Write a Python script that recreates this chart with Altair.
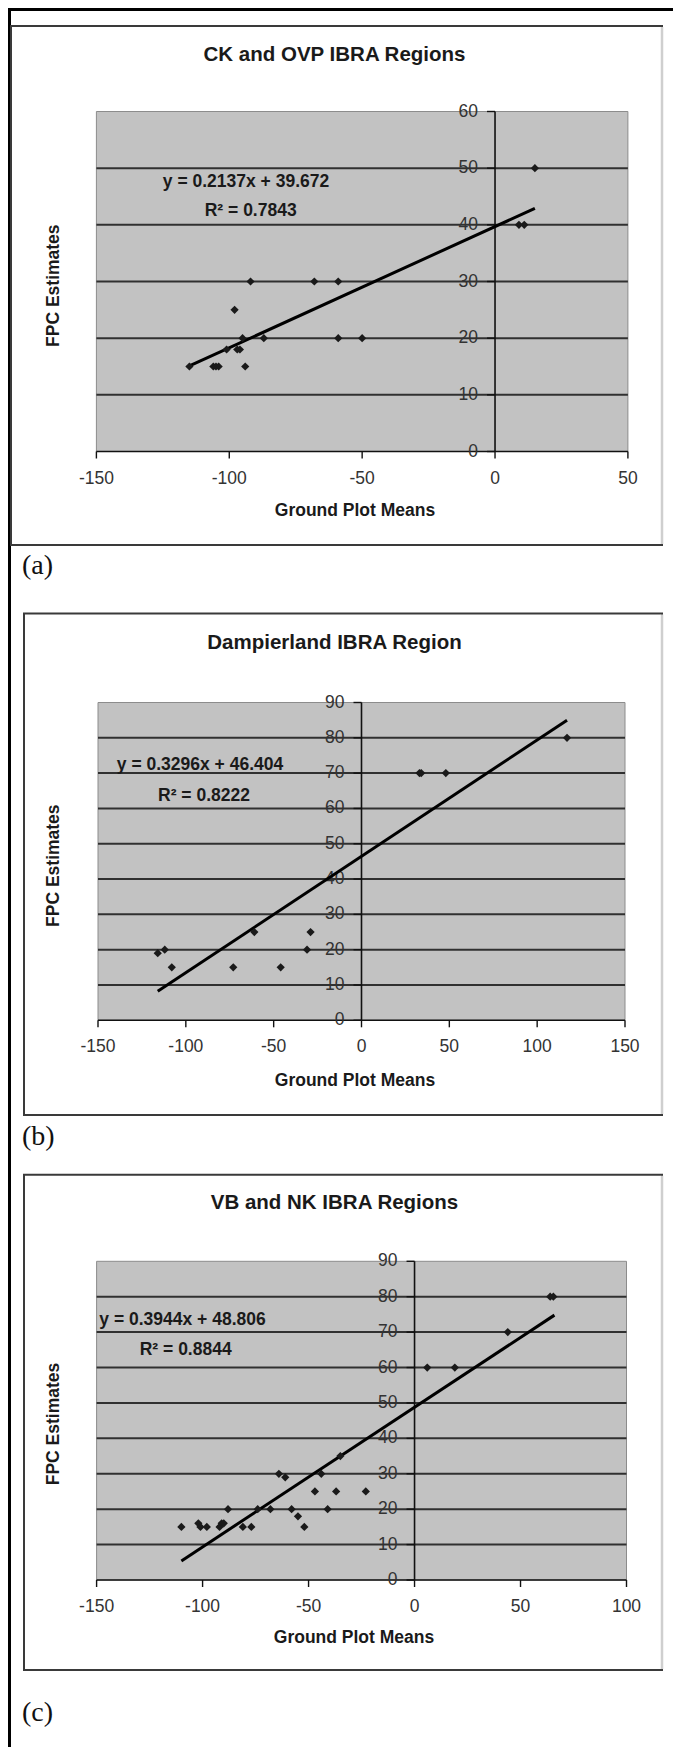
import altair as alt
import pandas as pd

FONT = "Liberation Sans"

# ---------------- data ----------------
# (a) CK and OVP IBRA Regions
a_x = [-115, -106, -105, -104, -94, -98, -92, -68, -59, -95, -87, -59, -50, -101, -97, -96, 15, 9, 11]
a_y = [15, 15, 15, 15, 15, 25, 30, 30, 30, 20, 20, 20, 20, 18, 18, 18, 50, 40, 40]
a_trend_x = [-115, 15]
a_trend_y = [15.1, 42.9]
a_xticks = [-150, -100, -50, 0, 50]
a_yticks = [0, 10, 20, 30, 40, 50, 60]

# (b) Dampierland IBRA Region
b_x = [-116, -112, -108, -73, -61, -46, -31, -29, 33, 34, 48, 117]
b_y = [19, 20, 15, 15, 25, 15, 20, 25, 70, 70, 70, 80]
b_trend_x = [-116, 117]
b_trend_y = [8.2, 85.0]
b_xticks = [-150, -100, -50, 0, 50, 100, 150]
b_yticks = [0, 10, 20, 30, 40, 50, 60, 70, 80, 90]

# (c) VB and NK IBRA Regions
c_x = [-110, -102, -101, -98, -92, -91, -90, -88, -81, -77, -74, -68, -64, -61,
       -58, -55, -52, -47, -44, -41, -37, -35, -23, 6, 19, 44, 64, 65.5]
c_y = [15, 16, 15, 15, 15, 16, 16, 20, 15, 15, 20, 20, 30, 29,
       20, 18, 15, 25, 30, 20, 25, 35, 25, 60, 60, 70, 80, 80]
c_trend_x = [-110, 66]
c_trend_y = [5.4, 74.8]
c_xticks = [-150, -100, -50, 0, 50, 100]
c_yticks = [0, 10, 20, 30, 40, 50, 60, 70, 80, 90]

titles = ["CK and OVP IBRA Regions", "Dampierland IBRA Region", "VB and NK IBRA Regions"]
equations = ["y = 0.2137x + 39.672", "y = 0.3296x + 46.404", "y = 0.3944x + 48.806"]
r2_texts = ["R\u00b2 = 0.7843", "R\u00b2 = 0.8222", "R\u00b2 = 0.8844"]
panel_labels = ["(a)", "(b)", "(c)"]
x_title = "Ground Plot Means"
y_title = "FPC Estimates"

W, H = 665, 1739


def panel(px, py, tx, ty, xticks, yticks, xr, yr):
    xdom = [min(xticks), max(xticks)]
    ydom = [min(yticks), max(yticks)]
    sx = alt.Scale(domain=xdom, range=xr, nice=False, zero=False)
    sy = alt.Scale(domain=ydom, range=yr, nice=False, zero=False)

    def X(f):
        return alt.X(f, type="quantitative", scale=sx, axis=None)

    def Y(f):
        return alt.Y(f, type="quantitative", scale=sy, axis=None)

    bg_df = pd.DataFrame({"x0": [xdom[0]], "x1": [xdom[1]], "y0": [ydom[0]], "y1": [ydom[1]]})
    bg = alt.Chart(bg_df).mark_rect(fill="#c2c2c2", stroke="#8c8c8c", strokeWidth=1).encode(
        x=X("x0"), x2="x1", y=Y("y0"), y2="y1")

    grid_df = pd.DataFrame({"y": yticks[1:-1], "x0": xdom[0], "x1": xdom[1]})
    grid = alt.Chart(grid_df).mark_rule(color="#303030", strokeWidth=2).encode(
        x=X("x0"), x2="x1", y=Y("y"))

    yax_df = pd.DataFrame({"x": [0], "y0": [ydom[0]], "y1": [ydom[1]]})
    yax = alt.Chart(yax_df).mark_rule(color="#111", strokeWidth=1.6).encode(
        x=X("x"), y=Y("y0"), y2="y1")

    xax_df = pd.DataFrame({"y": [0], "x0": [xdom[0]], "x1": [xdom[1]]})
    xax = alt.Chart(xax_df).mark_rule(color="#111", strokeWidth=1.6).encode(
        x=X("x0"), x2="x1", y=Y("y"))

    ytick_df = pd.DataFrame({"y": yticks, "x": 0, "lbl": [str(v) for v in yticks]})
    ytk = alt.Chart(ytick_df).mark_rule(color="#111", strokeWidth=1.4, x2Offset=-8).encode(
        x=X("x"), x2="x", y=Y("y"))
    ylab = alt.Chart(ytick_df).mark_text(
        align="right", baseline="middle", dx=-17, fontSize=17.5, font=FONT, color="#333"
    ).encode(x=X("x"), y=Y("y"), text="lbl:N")

    xtick_df = pd.DataFrame({"x": xticks, "y": 0, "lbl": [str(v) for v in xticks]})
    xtk = alt.Chart(xtick_df).mark_rule(color="#111", strokeWidth=1.4, y2Offset=7).encode(
        x=X("x"), y=Y("y"), y2="y")
    xlab = alt.Chart(xtick_df).mark_text(
        align="center", baseline="middle", dy=27, fontSize=17.5, font=FONT, color="#333"
    ).encode(x=X("x"), y=Y("y"), text="lbl:N")

    trend_df = pd.DataFrame({"x": tx, "y": ty})
    trend = alt.Chart(trend_df).mark_line(color="#000", strokeWidth=3).encode(
        x=X("x"), y=Y("y"))

    pts_df = pd.DataFrame({"x": px, "y": py})
    pts = alt.Chart(pts_df).mark_point(
        shape="diamond", filled=True, size=68, color="#1a1a1a", opacity=1
    ).encode(x=X("x"), y=Y("y"))

    return alt.layer(bg, grid, yax, xax, ytk, ylab, xtk, xlab, trend, pts)


pa = panel(a_x, a_y, a_trend_x, a_trend_y, a_xticks, a_yticks, [88.4, 619.9], [443.5, 103.5])
pb = panel(b_x, b_y, b_trend_x, b_trend_y, b_xticks, b_yticks, [90.0, 617.0], [1012.3, 694.5])
pc = panel(c_x, c_y, c_trend_x, c_trend_y, c_xticks, c_yticks, [88.6, 618.5], [1572.0, 1253.3])

one = pd.DataFrame({"k": [0]})

# layout helpers (page decorations)
boxes = [(3, 654, 18, 537), (16, 654, 605.6, 1107), (16, 654, 1166.7, 1662)]
title_y = [47, 635, 1195]
xtitle_pos = [(347, 503), (347, 1073), (346, 1630)]
ytitle_y = [277.7, 857.7, 1416]
eq_pos = [(238, 174), (192, 757), (174.5, 1311.6)]
r2_pos = [(242.7, 203), (196, 788), (177.7, 1341.5)]
lab_y = [558, 1129, 1705]

deco = []
# page frame (left and top)
deco.append(alt.Chart(one).mark_rule(color="#000", strokeWidth=3).encode(
    x=alt.value(1.5), y=alt.value(0), y2=alt.value(H)))
deco.append(alt.Chart(one).mark_rule(color="#000", strokeWidth=3).encode(
    x=alt.value(0), x2=alt.value(W), y=alt.value(1.5)))

for i in range(3):
    x0, x1, y0, y1 = boxes[i]
    deco.append(alt.Chart(one).mark_rect(fill="#ffffff", stroke="#3a3a3a", strokeWidth=2).encode(
        x=alt.value(x0), x2=alt.value(x1), y=alt.value(y0), y2=alt.value(y1)))
    deco.append(alt.Chart(one).mark_rule(color="#cfcfcf", strokeWidth=2.5).encode(
        x=alt.value(x1), y=alt.value(y0 + 1), y2=alt.value(y1 - 1)))

texts = []
for i in range(3):
    texts.append(alt.Chart(one).mark_text(
        align="center", baseline="middle", fontSize=20.5, fontWeight="bold", font=FONT, color="#1a1a1a"
    ).encode(x=alt.value(326.5), y=alt.value(title_y[i]), text=alt.value(titles[i])))
    texts.append(alt.Chart(one).mark_text(
        align="center", baseline="middle", fontSize=17.5, fontWeight="bold", font=FONT, color="#1a1a1a"
    ).encode(x=alt.value(xtitle_pos[i][0]), y=alt.value(xtitle_pos[i][1]), text=alt.value(x_title)))
    texts.append(alt.Chart(one).mark_text(
        align="center", baseline="middle", angle=270, fontSize=17.5, fontWeight="bold", font=FONT,
        color="#1a1a1a"
    ).encode(x=alt.value(46), y=alt.value(ytitle_y[i]), text=alt.value(y_title)))
    texts.append(alt.Chart(one).mark_text(
        align="center", baseline="middle", fontSize=17.5, fontWeight="bold", font=FONT, color="#1a1a1a"
    ).encode(x=alt.value(eq_pos[i][0]), y=alt.value(eq_pos[i][1]), text=alt.value(equations[i])))
    texts.append(alt.Chart(one).mark_text(
        align="center", baseline="middle", fontSize=17.5, fontWeight="bold", font=FONT, color="#1a1a1a"
    ).encode(x=alt.value(r2_pos[i][0]), y=alt.value(r2_pos[i][1]), text=alt.value(r2_texts[i])))
    texts.append(alt.Chart(one).mark_text(
        align="left", baseline="middle", fontSize=28, font="Liberation Serif", color="#111"
    ).encode(x=alt.value(14), y=alt.value(lab_y[i]), text=alt.value(panel_labels[i])))

chart = alt.layer(
    *deco,
    alt.layer(pa, pb, pc).resolve_scale(x="independent", y="independent"),
    *texts,
).properties(
    width=W, height=H, padding=0, autosize=alt.AutoSizeParams(type="none"), background="white"
).configure_view(stroke=None)

chart.save("out.html", embed_options={"renderer": "svg", "actions": False})
